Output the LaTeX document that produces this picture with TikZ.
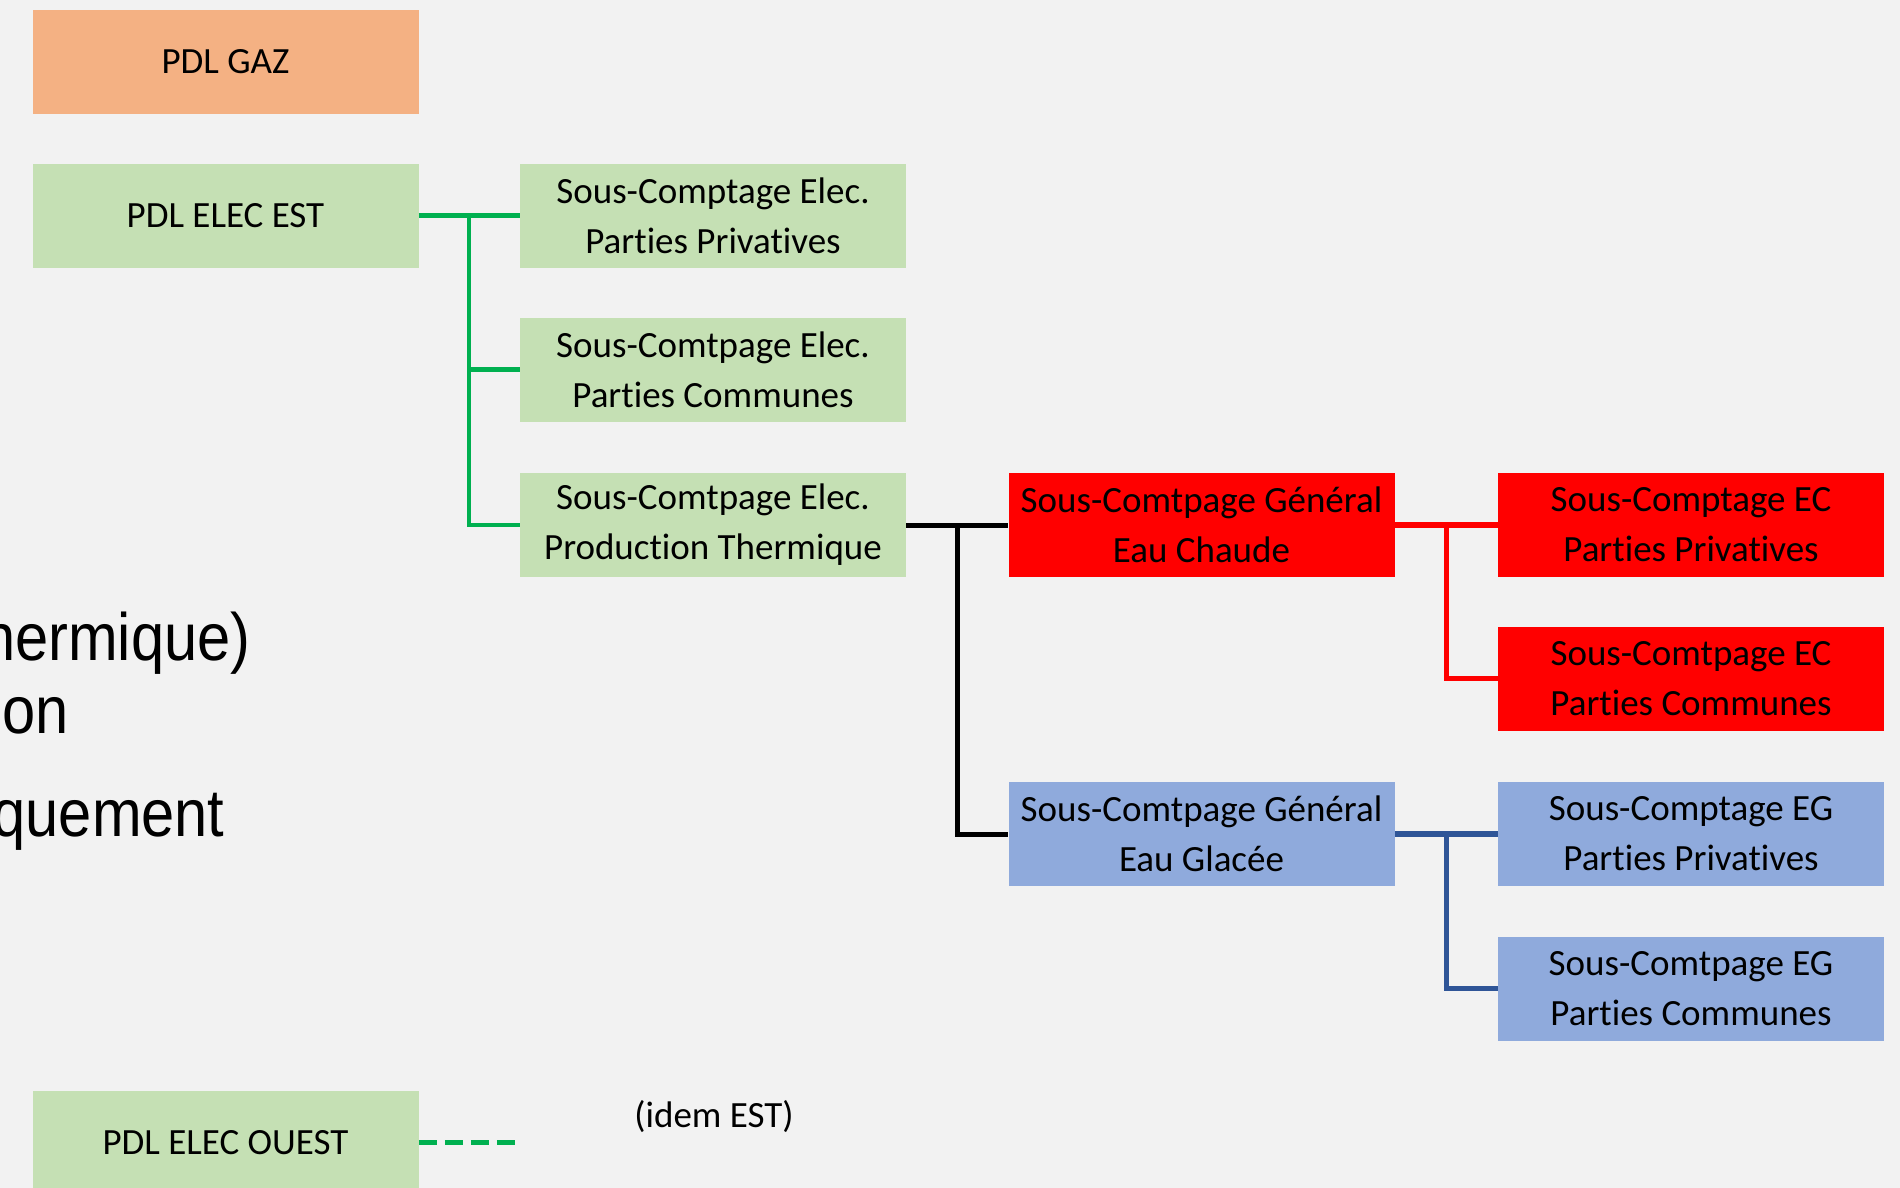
\documentclass[tikz,border=0pt]{standalone}
\usepackage{fontspec}
\setmainfont[Ligatures=NoCommon]{Carlito}
\newfontfamily\arialn[FakeStretch=0.89]{Liberation Sans}
\usetikzlibrary{calc}
\definecolor{bgc}{HTML}{F2F2F2}
\definecolor{orangec}{HTML}{F4B183}
\definecolor{greenc}{HTML}{C5E0B4}
\definecolor{redc}{HTML}{FF0000}
\definecolor{bluec}{HTML}{8FAADC}
\definecolor{gline}{HTML}{00B050}
\definecolor{bline}{HTML}{2F5597}
\begin{document}
\begin{tikzpicture}[x=0.5pt,y=-0.5pt,
  box/.style={rectangle,draw=none,inner sep=0pt,minimum width=193pt,minimum height=52pt,
    align=center,font=\fontsize{18.5}{25}\selectfont,text=black},
  gbox/.style={box,fill=greenc},
  rbox/.style={box,fill=redc},
  bbox/.style={box,fill=bluec},
  obox/.style={box,fill=orangec},
  glink/.style={draw=gline,line width=2.1pt},
  klink/.style={draw=black,line width=2.5pt},
  rlink/.style={draw=redc,line width=2.6pt},
  blink/.style={draw=bline,line width=2.7pt},
  bigtxt/.style={inner sep=0pt,font=\arialn\fontsize{33.5}{40}\selectfont,text=black}
]
\useasboundingbox (0,0) rectangle (1900,1188);
\fill[bgc] (0,0) rectangle (1900,1188);
\clip (0,0) rectangle (1900,1188);

% left clipped text
\node[bigtxt,anchor=base east] (t1) at (251,660) {hermique)};
\node[bigtxt,anchor=base east] (t2) at (69,733) {on};
\node[bigtxt,anchor=base east] (t3) at (225,836) {quement};

% boxes
\node[obox] (gaz) at (225.5,62) {PDL GAZ};
\node[gbox] (est) at (225.5,215.5) {PDL ELEC EST};
\node[gbox] (ouest) at (225.5,1142.5) {PDL ELEC OUEST};

\node[gbox] (pp) at (713,215.5) {Sous-Comptage Elec.\\Parties Privatives};
\node[gbox] (pc) at (713,369.5) {Sous-Comtpage Elec.\\Parties Communes};
\node[gbox] (pt) at (713,525) {Sous-Comtpage Elec.\\Production Thermique};

\node[rbox] (ec) at (1201.5,525) {Sous-Comtpage Général\\Eau Chaude};
\node[bbox] (eg) at (1201.5,834) {Sous-Comtpage Général\\Eau Glacée};

\node[rbox] (ecpp) at (1691,525) {Sous-Comptage EC\\Parties Privatives};
\node[rbox] (ecpc) at (1691,678.5) {Sous-Comtpage EC\\Parties Communes};
\node[bbox] (egpp) at (1691,834) {Sous-Comptage EG\\Parties Privatives};
\node[bbox] (egpc) at (1691,988.5) {Sous-Comtpage EG\\Parties Communes};

\node[inner sep=0pt,font=\fontsize{18.5}{25}\selectfont] (idem) at (714,1117) {(idem EST)};

% green connectors
\coordinate (gj) at ($(est.east)!0.5!(pp.west)$);
\draw[glink] (est.east) -- (pp.west);
\draw[glink] (gj) |- (pc.west);
\draw[glink] (gj) |- (pt.west);

% black connectors
\coordinate (kj) at ($(pt.east)!0.5!(ec.west)$);
\draw[klink] (pt.east) -- (ec.west);
\draw[klink] (kj) |- (eg.west);

% red connectors
\coordinate (rj) at ($(ec.east)!0.5!(ecpp.west)$);
\draw[rlink] (ec.east) -- (ecpp.west);
\draw[rlink] (rj) |- (ecpc.west);

% blue connectors
\coordinate (bj) at ($(eg.east)!0.5!(egpp.west)$);
\draw[blink] (eg.east) -- (egpp.west);
\draw[blink] (bj) |- (egpc.west);

% dashed
\coordinate (oend) at ($(ouest.east)+(102,0)$);
\draw[glink,dash pattern=on 9pt off 4pt] (ouest.east) -- (oend);
\end{tikzpicture}
\end{document}
